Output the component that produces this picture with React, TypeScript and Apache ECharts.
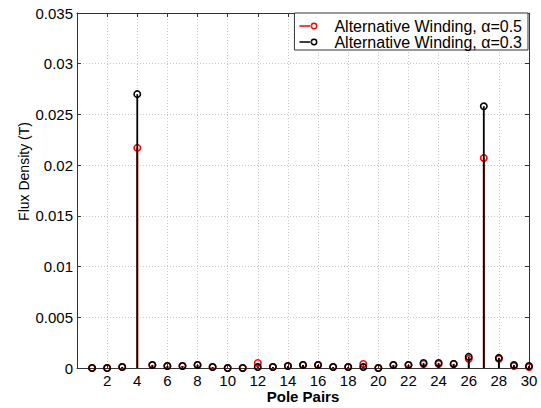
import React, { useEffect, useRef } from "react";
import * as echarts from "echarts";

const poles = [1, 2, 3, 4, 5, 6, 7, 8, 9, 10, 11, 12, 13, 14, 15, 16, 17, 18, 19, 20, 21, 22, 23, 24, 25, 26, 27, 28, 29, 30];
const alpha05 = [0, 0, 0.0001, 0.0217, 0.0003, 0.0002, 0.0002, 0.0003, 0.0001, 0, 0, 0.0005, 0.0001, 0.0002, 0.0003, 0.0003, 0.0001, 0.0001, 0.0004, 0, 0.0003, 0.0003, 0.0004, 0.0004, 0.0004, 0.0009, 0.0207, 0.0009, 0.0002, 0.0001];
const alpha03 = [0, 0, 0.0001, 0.027, 0.0003, 0.0002, 0.0002, 0.0003, 0.0001, 0, 0, 0.0001, 0.0001, 0.0002, 0.0003, 0.0003, 0.0001, 0.0001, 0.0001, 0, 0.0003, 0.0003, 0.0005, 0.0005, 0.0004, 0.0011, 0.0258, 0.001, 0.0003, 0.0002];
const seriesNames = ["Alternative Winding, \u03b1=0.5", "Alternative Winding, \u03b1=0.3"];
const seriesColors = ["#ff0000", "#000000"];

const legendIcon =
  "path://M0,2.75 L12.2,2.75 L12.2,4.25 L0,4.25 Z M18.5,3.5 A3.5,3.5 0 1,0 11.5,3.5 A3.5,3.5 0 1,0 18.5,3.5 Z M17,3.5 A2,2 0 1,1 13,3.5 A2,2 0 1,1 17,3.5 Z";

function stemSeries(name: string, values: number[], color: string) {
  return {
    type: "custom",
    name,
    xAxisIndex: 0,
    yAxisIndex: 0,
    itemStyle: { color },
    data: poles.map((p, i) => [p, values[i]]),
    encode: { x: 0, y: 1 },
    clip: false,
    renderItem: (params: any, api: any) => {
      const x = api.value(0);
      const y = api.value(1);
      const p0 = api.coord([x, 0]);
      const p1 = api.coord([x, y]);
      return {
        type: "group",
        children: [
          {
            type: "line",
            shape: { x1: p0[0], y1: p0[1], x2: p1[0], y2: p1[1] },
            style: { stroke: color, lineWidth: 1.8 },
          },
          {
            type: "circle",
            shape: { cx: p1[0], cy: p1[1], r: 3.2 },
            style: { fill: "rgba(255,255,255,0)", stroke: color, lineWidth: 1.6 },
          },
        ],
      };
    },
  };
}

export default function App() {
  const ref = useRef<HTMLDivElement>(null);
  useEffect(() => {
    const chart = echarts.init(ref.current!, null, { renderer: "svg" });
    const font = "Arial, 'Liberation Sans', sans-serif";
    const axisLineStyle = { color: "#333", width: 1 };
    chart.setOption({
      animation: false,
      textStyle: { fontFamily: font },
      grid: { left: 77, right: 12, top: 13, bottom: 40, outerBoundsMode: "none", containLabel: false },
      legend: {
        orient: "vertical",
        right: 13,
        top: 13,
        data: seriesNames.map((n) => ({ name: n, icon: legendIcon })),
        itemWidth: 18,
        itemHeight: 7,
        itemGap: 0,
        padding: [5, 6, 0, 5],
        backgroundColor: "#fff",
        borderColor: "#333",
        borderWidth: 1,
        borderRadius: 0,
        selectedMode: false,
        textStyle: { fontSize: 16, color: "#000", fontFamily: font, padding: [0, 0, 0, 12] },
      },
      xAxis: [
        {
          type: "value",
          min: 0,
          max: 30,
          interval: 2,
          position: "bottom",
          name: "Pole Pairs",
          nameLocation: "middle",
          nameGap: 21,
          nameMoveOverlap: false,
          nameTextStyle: { fontSize: 15, fontWeight: "bold", color: "#000" },
          axisLine: { show: true, onZero: false, lineStyle: axisLineStyle },
          axisTick: { show: true, inside: true, length: 4, lineStyle: axisLineStyle },
          axisLabel: {
            fontSize: 15,
            color: "#000",
            margin: 5,
            formatter: (v: number) => (v === 0 ? "" : String(v)),
          },
          splitLine: { show: true, lineStyle: { color: "#c8c8c8", type: [1, 2], width: 1 } },
        },
        {
          type: "value",
          min: 0,
          max: 30,
          interval: 2,
          position: "top",
          axisLine: { show: true, onZero: false, lineStyle: axisLineStyle },
          axisTick: { show: true, inside: true, length: 4, lineStyle: axisLineStyle },
          axisLabel: { show: false },
          splitLine: { show: false },
        },
      ],
      yAxis: [
        {
          type: "value",
          min: 0,
          max: 0.035,
          interval: 0.005,
          position: "left",
          name: "Flux Density (T)",
          nameLocation: "middle",
          nameGap: 46,
          nameMoveOverlap: false,
          nameTextStyle: { fontSize: 14, color: "#000", padding: [0, 0, 0, 38] },
          axisLine: { show: true, onZero: false, lineStyle: axisLineStyle },
          axisTick: { show: true, inside: true, length: 4, lineStyle: axisLineStyle },
          axisLabel: { fontSize: 15, color: "#000", margin: 4 },
          splitLine: { show: true, lineStyle: { color: "#c8c8c8", type: [1, 2], width: 1 } },
        },
        {
          type: "value",
          min: 0,
          max: 0.035,
          interval: 0.005,
          position: "right",
          axisLine: { show: true, onZero: false, lineStyle: axisLineStyle },
          axisTick: { show: true, inside: true, length: 4, lineStyle: axisLineStyle },
          axisLabel: { show: false },
          splitLine: { show: false },
        },
      ],
      series: [
        stemSeries(seriesNames[0], alpha05, seriesColors[0]),
        stemSeries(seriesNames[1], alpha03, seriesColors[1]),
      ],
    });
    return () => chart.dispose();
  }, []);
  return (
    <div
      ref={ref}
      style={{ position: "fixed", left: 0, top: 0, width: 541, height: 408, background: "#fff" }}
    />
  );
}
